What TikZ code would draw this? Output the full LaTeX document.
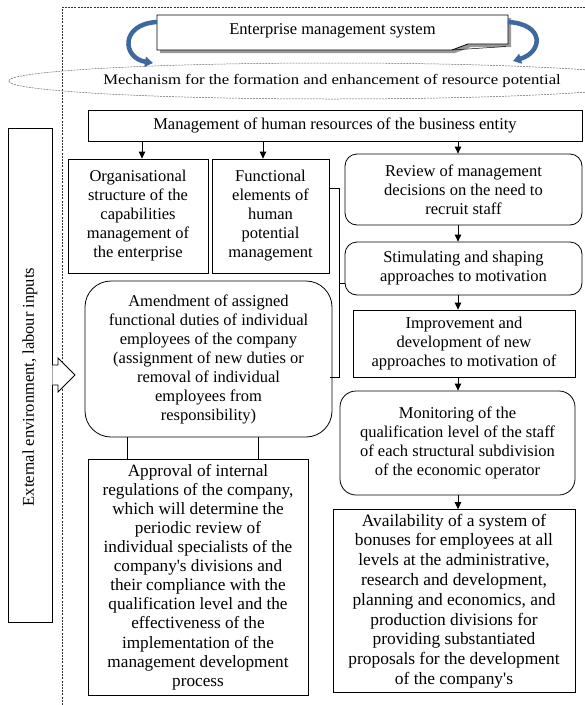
\documentclass[tikz,border=0pt]{standalone}
\usepackage{fontspec}
\setmainfont{Liberation Serif}[Ligatures=TeXOff]
\newfontfamily\mechfam{Liberation Serif}[Ligatures=TeXOff, FakeStretch=1.15]
\usetikzlibrary{arrows.meta,shapes.geometric}
\newcommand\boxfont{\fontsize{16.5}{19}\selectfont}
\newcommand\bigboxfont{\fontsize{17.2}{19.1}\selectfont}
\newcommand\availfont{\fontsize{17.4}{19.8}\selectfont}
\newcommand\mechfont{\mechfam\fontsize{14.5}{16}\selectfont}
\definecolor{bluearr}{RGB}{62,104,160}
\tikzset{
  box/.style={draw, line width=0.8pt, align=center, inner sep=0pt, font=\boxfont},
  rbox/.style={box, rounded corners=12pt},
  arr/.style={-{Triangle[length=7pt,width=6.5pt]}, line width=0.8pt},
  plain/.style={line width=0.8pt},
  frame/.style={line width=0.6pt, black!80, dash pattern=on 2pt off 1.2pt},
  curl/.style={line width=4.5pt, bluearr, -{Triangle[length=8pt,width=10pt]}},
}
\begin{document}
\begin{tikzpicture}[x=1pt,y=-1pt]
\useasboundingbox (0,0) rectangle (585,705);
\fill[white] (0,0) rectangle (585,705);
% dashed frame
\draw[frame] (62,705) -- (62,7) -- (585,7);
% enterprise box with shadow and folded corner
\fill[black!40] (160,18) -- (511,18) -- (511,47) -- (471,47) -- (455,53) -- (160,53) -- cycle;
\filldraw[fill=white, line width=0.8pt] (157,15) -- (508,15) -- (508,44) -- (468,44) -- (452,50) -- (157,50) -- cycle;
\draw[line width=0.5pt] (452,50) -- (506,46.5);
\node[inner sep=0pt, font=\boxfont] (ent) at (332.5,31) {Enterprise management system};
\coordinate (entL) at (157,22);
\coordinate (entR) at (508,22);
% ellipse
\node[ellipse, draw=black!60, line width=0.5pt, dash pattern=on 2pt off 1pt, minimum width=502pt, minimum height=36pt, inner sep=0pt, font=\mechfont] (mech) at (332,81) {Mechanism for the formation and enhancement of resource potential};
\coordinate (mechL) at (153,63);
\coordinate (mechR) at (513,61);
\draw[curl] (entL) .. controls (120,24) and (122,58) .. (mechL);
\draw[curl] (entR) .. controls (545,24) and (543,52) .. (mechR);
% management
\node[box, minimum width=494pt, minimum height=31pt] (mgmt) at (335,125.5) {Management of human resources of the business entity};
% left column
\node[box, minimum width=140pt, minimum height=114pt] (org) at (138,216) {Organisational\\structure of the\\capabilities\\management of\\the enterprise};
\node[box, minimum width=117pt, minimum height=114pt] (func) at (270.5,216) {Functional\\elements of\\human\\potential\\management};
\node[box, rounded corners=26pt, minimum width=247pt, minimum height=156pt] (amend) at (208.5,359) {Amendment of assigned\\functional duties of individual\\employees of the company\\(assignment of new duties or\\removal of individual\\employees from\\responsibility)};
\node[box, font=\bigboxfont, minimum width=220pt, minimum height=236pt] (approv) at (198,577) {Approval of internal\\regulations of the company,\\which will determine the\\periodic review of\\individual specialists of the\\company's divisions and\\their compliance with the\\qualification level and the\\effectiveness of the\\implementation of the\\management development\\process};
% right column
\node[rbox, minimum width=237pt, minimum height=71pt] (review) at (463.5,189.5) {Review of management\\decisions on the need to\\recruit staff};
\node[rbox, minimum width=237pt, minimum height=53pt] (stim) at (463.5,268.5) {Stimulating and shaping\\approaches to motivation};
\node[box, minimum width=222pt, minimum height=67pt] (improv) at (464,343.5) {Improvement and\\development of new\\approaches to motivation of};
\node[box, rounded corners=16pt, minimum width=235pt, minimum height=104pt] (monit) at (457.5,443) {Monitoring of the\\qualification level of the staff\\of each structural subdivision\\of the economic operator};
\node[box, font=\availfont, minimum width=242pt, minimum height=183pt] (avail) at (454,601) {Availability of a system of\\bonuses for employees at all\\levels at the administrative,\\research and development,\\planning and economics, and\\production divisions for\\providing substantiated\\proposals for the development\\of the company's};
% left external box
\node[box, minimum width=44pt, minimum height=494pt] (ext) at (30,375) {};
\node[rotate=90, inner sep=0pt, font=\boxfont] (extt) at (30,387) {External environment, labour inputs};
% block arrow
\filldraw[fill=white, line width=0.8pt] (ext.east |- 0,365) -- (58,365) -- (58,358) -- (75,375) -- (58,392) -- (58,385) -- (ext.east |- 0,385);
% arrows
\coordinate (colx) at (458,0);
\draw[arr] ([xshift=4pt]org.north |- mgmt.south) -- ([xshift=4pt]org.north);
\draw[arr] ([xshift=-7.5pt]func.north |- mgmt.south) -- ([xshift=-7.5pt]func.north);
\draw[arr] (mgmt.south -| colx) -- (review.north -| colx);
\draw[arr] (review.south -| colx) -- (stim.north -| colx);
\draw[arr] (stim.south -| colx) -- (improv.north -| colx);
\draw[arr] (improv.south -| colx) -- (monit.north -| colx);
\draw[arr] (monit.south -| colx) -- (avail.north -| colx);
% links amendment - approval
\draw[plain] (127,437) -- (approv.north -| 127,0);
\draw[plain] (258,437) -- (approv.north -| 258,0);
% bracket
\coordinate (brT) at (339,188);
\coordinate (brB) at (339,377);
\draw[plain] (func.east |- brT) -- (brT) -- (brB) -- (330,377);
\draw[plain] (339,283) -- (stim.west |- 0,283);
\end{tikzpicture}
\end{document}
